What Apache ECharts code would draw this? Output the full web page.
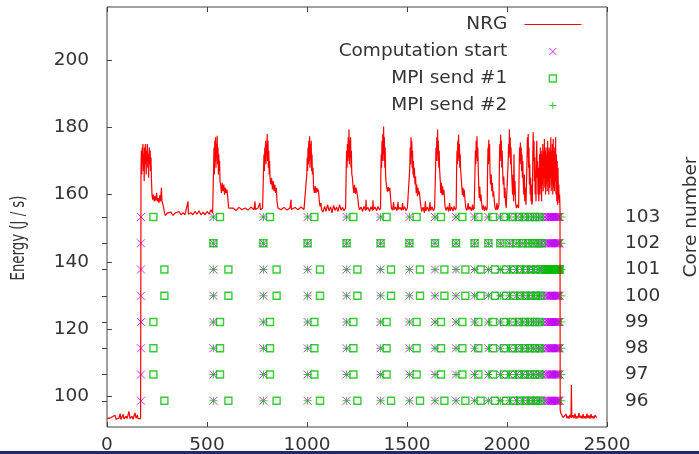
<!DOCTYPE html>
<html lang="en" style="height: 100%">
<head>
  <meta charset="utf-8">
</head>
<body style="height: 100%; margin: 0; background: #fff">
  <div id="container" style="width: 699px; height: 454px"></div>

  <script type="text/javascript" src="https://fastly.jsdelivr.net/npm/echarts@6/dist/echarts.min.js"></script>
  <script type="text/javascript">
    // power trace, [time (s), energy (J/s)]
    var nrg = [
      [0,93.5],[10,93.2],[20,93.8],[30,93.4],[40,94.5],[45,93.3],[60,93.6],[66,95],[70,93.2],[80,94.8],[85,93.4],[95,94.2],[100,93.5],[110,95.6],[115,93.5],[125,94.2],[130,93.3],[140,95.2],[145,93.6],[152,94.6],[155,93.5],[160,94],[168,93.5],
      // iteration 1
      [170,168],[172,173],[174,166],[176,174],[178,170],[180,175],[182,167],[184,172],[186,164],[188,174],[190,169],[192,175],[194,171],[196,166],[198,173],[200,170],[202,175],[204,168],[206,172],[208,165],[210,171],[212,174],[214,169],[216,173],[218,167],[220,171],[222,165],[225,160],[228,158.5],[232,160],[236,158],[240,159.5],[244,158.2],[248,160.5],[252,158],[256,159],[260,157.5],[264,159.8],[268,158],[272,162],[275,158],[280,157],[284,156.5],[288,154.5],[292,153.8],[300,154.5],[310,154],[320,154.8],[330,153.8],[340,154.5],[350,154],[360,155],[370,154],[380,154.6],[390,154],[400,154.5],[405,158],[407,154.2],[420,154.6],[430,154],[440,155],[450,154.2],[460,155.2],[470,154],[480,154.8],[490,154],[500,155],[510,154.2],[520,155.5],[528,154.5],
      // iteration 2
      [532,155],[533,168],[535,174],[537,166],[539,176],[541,170],[543,177],[545,168],[547,175],[549,171],[551,177.5],[553,169],[555,174],[557,166],[559,172],[561,167],[563,170],[565,164],[568,163],[572,160.5],[576,163.5],[580,161],[584,163],[588,160],[592,162],[596,160.5],[600,161.5],[604,159],[608,156],[615,155.5],[630,156],[645,155.3],[660,156.2],[675,155.5],[690,156],[705,155.4],[720,156.3],[735,155.5],[740,158],[742,155.6],[755,156],[765,157.5],[767,155.5],[778,156],
      // iteration 3
      [782,156],[783,168],[785,172],[787,167],[789,174],[791,170],[793,176],[795,169],[797,175],[799,172],[801,178],[803,170],[805,176],[807,168],[809,173],[811,166],[813,170],[815,165],[819,163],[823,165],[827,161.5],[831,164],[835,161],[839,163],[843,160.5],[847,162],[850,158],[855,156],[870,155.5],[885,156.2],[900,155.4],[915,156],[920,158.5],[922,155.6],[940,156.2],[955,155.5],[970,156.3],[985,155.6],[995,156],
      // iteration 4
      [998,156],[999,166],[1001,171],[1003,167],[1005,174],[1007,169],[1009,176],[1011,170],[1013,177.3],[1015,168],[1017,175],[1019,171],[1021,176],[1023,167],[1025,172],[1027,166],[1030,168],[1033,162],[1037,160.5],[1041,162.5],[1045,160.4],[1049,162],[1053,160.8],[1057,161.5],[1061,158.5],[1065,156.5],[1070,157.5],[1073,155.5],[1080,154.8],[1088,156.5],[1095,155],[1103,157],[1110,155.2],[1118,156.4],[1125,154.6],[1133,156.8],[1140,155.3],[1148,156.3],[1155,155],[1163,157],[1170,155.4],[1178,156.2],[1185,155.2],[1193,156],
      // iteration 5
      [1195,156],[1196,167],[1198,173],[1200,168],[1202,175],[1204,170],[1206,177],[1208,171],[1210,179.3],[1212,169],[1214,176],[1216,171],[1218,177],[1220,168],[1222,173],[1224,166],[1227,165],[1230,162.5],[1234,160.5],[1238,162.9],[1242,160.2],[1246,162],[1250,160.5],[1254,159],[1258,156.5],[1263,155.5],[1270,156.3],[1278,155],[1285,156.5],[1293,155.3],[1295,158.5],[1297,155.5],[1305,156.2],[1313,155],[1320,156.4],[1328,155.3],[1330,158.3],[1332,155.5],[1340,156.3],[1348,155.2],[1355,156.5],[1363,155.4],
      // iteration 6
      [1368,156],[1369,166],[1371,172],[1373,168],[1375,176],[1377,170],[1379,178],[1381,172],[1383,180.2],[1385,170],[1387,177],[1389,168],[1391,174],[1393,166],[1395,164],[1398,162.4],[1402,160.9],[1406,162.2],[1410,161],[1414,162],[1418,159],[1422,156],[1428,155.4],[1433,157.8],[1436,155.5],[1443,156.3],[1450,155.2],[1455,157.8],[1458,155.6],[1465,156.2],[1473,155.3],[1478,157.5],[1481,155.5],[1488,156.4],[1495,155.2],[1502,156],[1508,155.5],
      // iteration 7
      [1512,156],[1514,168],[1516,174],[1518,169],[1520,177],[1522,171],[1524,176],[1526,168],[1528,173],[1530,166],[1532,170],[1534,165],[1537,168],[1540,163],[1543,165.4],[1546,160.5],[1549,163],[1552,159.5],[1555,162],[1558,160],[1561,161],[1564,159.4],[1568,157],[1573,155],[1580,156.3],[1587,154.6],[1592,158],[1594,155.2],[1602,156.3],[1610,155],[1615,157.8],[1618,155.3],[1625,156.4],[1632,155.2],[1638,156],
      // iteration 8
      [1641,156],[1643,168],[1645,174],[1647,170],[1649,177],[1651,172],[1653,179.3],[1655,170],[1657,176],[1659,168],[1661,173],[1663,167.4],[1666,164.4],[1669,160.5],[1672,163.5],[1675,159.8],[1678,162.5],[1681,160],[1684,161.5],[1687,159.4],[1690,156.5],[1695,155.3],[1702,156.4],[1708,155],[1713,157.5],[1716,155.2],[1723,156.3],[1730,155.1],[1736,156.5],[1742,155.4],
      // iteration 9
      [1746,156],[1748,167],[1750,173],[1752,169],[1754,176],[1756,171],[1758,177.8],[1760,170],[1762,175],[1764,168],[1766,172],[1768,167.4],[1771,165],[1774,162.4],[1777,159.8],[1780,162],[1783,159.4],[1786,161.5],[1790,158.5],[1794,156],[1800,155.3],[1806,157.5],[1809,155.5],[1815,156.4],[1822,155.2],[1828,157],[1831,155.4],[1836,156],
      // iteration 10
      [1838,156],[1840,167],[1842,173],[1844,169],[1846,176],[1848,171],[1850,177.3],[1852,170],[1854,174],[1856,168.4],[1858,164],[1861,159],[1864,162.4],[1867,158],[1870,160],[1873,157.5],[1877,155.5],[1882,156.8],[1887,155.2],[1892,156.5],[1897,155.3],[1901,156],
      // iteration 11
      [1902,156],[1903,168],[1905,174],[1907,169],[1909,176.3],[1911,170],[1913,175],[1915,166.4],[1918,163],[1921,166],[1924,161],[1927,163.5],[1930,159.4],[1933,161],[1936,158.5],[1940,156],[1945,155.4],[1950,157.5],[1953,155.5],[1958,156],
      // iteration 12
      [1960,157],[1962,169],[1964,175],[1966,170],[1968,177.8],[1970,171],[1972,176],[1974,168],[1976,173],[1978,167.4],[1981,163],[1984,165.4],[1987,159],[1990,162],[1993,157.5],[1996,156],
      // iterations 13+
      [2003,156.5],[2006,170],[2008,175],[2010,171],[2012,179.3],[2014,172],[2016,177],[2018,169],[2020,174],[2022,168.4],[2025,164],[2028,160],[2031,166],[2033,158],[2035,172],[2037,160],[2040,164],[2043,157.5],[2047,156],[2052,157],
      [2058,156],[2061,168],[2063,174],[2065,170],[2067,175.5],[2069,169],[2071,174],[2073,167],[2075,172],[2077,165],[2079,170],[2081,164],[2084,160],[2087,166],[2089,158],[2092,162],[2095,157],
      [2098,157],[2100,170],[2102,177],[2104,171],[2106,178],[2108,168],[2110,174],[2112,163],[2114,169],[2116,160],[2118,165],[2120,158],[2122,163],[2124,157],
      [2127,158],[2129,172],[2131,178.5],[2133,170],[2135,176],[2137,164],[2139,171],[2141,160],[2143,167],[2145,158],[2147,172],[2149,176],[2151,165],[2153,170],[2155,160],[2157,168],[2159,158],[2161,164],
      [2163,172],[2165,160],[2167,174],[2169,162],[2171,173],[2173,158],[2175,172],[2177,163],[2179,175],[2181,161],[2183,173],[2185,165],[2187,176.5],[2189,162],[2191,173],[2193,160],[2195,174],[2197,163],[2199,172],[2201,161],[2203,176],[2205,164],[2207,173],[2209,160],[2211,174],[2213,162],[2215,172.5],[2217,165],[2219,177],[2221,161],[2223,173],[2225,163],[2227,175],[2229,160],[2231,176.5],[2233,162],[2235,173],[2237,161],[2239,174],[2241,164],[2243,177],[2245,160],[2247,172],[2249,158],[2251,170],[2253,157],[2255,168],[2257,158.5],[2259,163],[2261,157.5],[2263,160],[2265,156],
      // idle after the run
      [2266,96],[2270,95],[2275,94.5],[2280,93.8],[2285,94.2],[2290,93.5],[2295,94.8],[2300,93.6],[2305,94.3],[2310,93.5],[2315,94.6],[2320,93.7],[2322,103.5],[2324,93.8],[2330,94.5],[2335,93.6],[2340,95],[2345,93.5],[2350,94.2],[2355,93.6],[2360,95.2],[2365,93.7],[2370,94.3],[2375,93.5],[2380,94.8],[2385,93.6],[2390,94.2],[2395,93.5],[2400,95],[2405,93.6],[2410,94.4],[2415,93.5],[2420,94.8],[2425,93.6],[2430,94.2],[2435,93.5],[2440,94.5],[2448,93.8]
    ];

    var cores = [96, 97, 98, 99, 100, 101, 102, 103];
    var nearCores = [97, 98, 99, 103];   // send #1 shortly after start
    var farCores = [96, 100, 101];       // send #1 a bit later
    var energyTicks = [100, 120, 140, 160, 180, 200];

    // computation start times (same on every core)
    var compStart = [170, 532, 782, 1003, 1198, 1368, 1512, 1640, 1745, 1838, 1907, 1967, 2012, 2048, 2078, 2107, 2132, 2157, 2173];
    // last, very short iterations (solid bars)
    var denseStart = [2190, 2198, 2205, 2211, 2216, 2220, 2224, 2228, 2232, 2236, 2240, 2244, 2248, 2252, 2256, 2260, 2263];
    var send1Near = [232, 565, 815, 1037, 1232, 1398, 1548, 1670, 1777, 1857, 1930, 1985, 2027, 2060, 2088, 2115, 2140, 2163];
    var send1Far = [287, 607, 848, 1065, 1252, 1420, 1565, 1687, 1792, 1868, 1940, 1995, 2035, 2065, 2093, 2120, 2145, 2168];
    var finalSend = 2272;

    function cross(coreList, times) {
      var out = [];
      coreList.forEach(function (c) {
        times.forEach(function (t) { out.push([t, c]); });
      });
      return out;
    }

    var compPts = cross(cores, compStart.concat(denseStart));
    var send1Pts = cross(nearCores, send1Near)
      .concat(cross(farCores, send1Far))
      .concat(cross([102], compStart.slice(1)))
      .concat(cross([101], denseStart));
    var send2Pts = cross(cores, compStart.slice(1).concat([finalSend]));

    var FONT = 'DejaVu Sans';
    var TXT = '#333';
    var AX = '#444';
    var FS = 18.5;

    var dom = document.getElementById('container');
    var myChart = echarts.init(dom, null, { renderer: 'canvas' });

    var option = {
      animation: false,
      backgroundColor: '#fff',
      textStyle: { fontFamily: FONT },
      grid: {
        left: 107, right: 92, top: 7, bottom: 27,
        outerBoundsMode: 'none',
        show: true, borderColor: AX, borderWidth: 1
      },
      legend: {
        orient: 'vertical',
        right: 117,
        top: 15,
        padding: 0,
        align: 'right',
        itemWidth: 57,
        itemHeight: 14,
        itemGap: 8,
        selectedMode: false,
        textStyle: { fontFamily: FONT, fontSize: FS, color: TXT, lineHeight: 14, padding: [0, 12, 0, 0] },
        data: [
          { name: 'NRG', icon: 'path://M0 0M57 14M0 6.5L57 6.5L57 7.5L0 7.5Z',
            itemStyle: { color: '#ff0000', borderWidth: 0 } },
          { name: 'Computation start', icon: 'path://M0 0M57 14M25 3.5L32 10.5M32 3.5L25 10.5',
            itemStyle: { color: 'transparent', borderColor: '#c000ff', borderWidth: 1 } },
          { name: 'MPI send #1', icon: 'path://M0 0M57 14M25 3.5L32 3.5L32 10.5L25 10.5Z',
            itemStyle: { color: 'transparent', borderColor: '#00c000', borderWidth: 1.3 } },
          { name: 'MPI send #2', icon: 'path://M0 0M57 14M28.5 3.5L28.5 10.5M25 7L32 7',
            itemStyle: { color: 'transparent', borderColor: '#00c000', borderWidth: 1 } }
        ]
      },
      xAxis: [
        {
          type: 'value', position: 'bottom', min: 0, max: 2500, interval: 500,
          axisLine: { show: false },
          axisTick: { inside: true, length: 5, lineStyle: { color: AX } },
          axisLabel: { margin: 9, fontSize: FS, color: TXT, fontFamily: FONT,
            formatter: function (v) { return String(v); } },
          splitLine: { show: false }
        },
        {
          type: 'value', position: 'top', min: 0, max: 2500, interval: 500,
          axisLine: { show: false },
          axisTick: { inside: true, length: 5, lineStyle: { color: AX } },
          axisLabel: { show: false },
          splitLine: { show: false }
        }
      ],
      yAxis: [
        {
          type: 'value', position: 'left', min: 91, max: 215.7,
          axisLine: { show: false },
          axisTick: { inside: true, length: 5, customValues: energyTicks, lineStyle: { color: AX } },
          axisLabel: { customValues: energyTicks, margin: 18, fontSize: FS, color: TXT, fontFamily: FONT },
          splitLine: { show: false }
        },
        {
          type: 'value', position: 'right', min: 95, max: 111,
          axisLine: { show: false },
          axisTick: { inside: true, length: 5, customValues: cores, lineStyle: { color: AX } },
          axisLabel: { customValues: cores, margin: 18, fontSize: FS, color: TXT, fontFamily: FONT },
          splitLine: { show: false },
          name: 'Core number',
          nameLocation: 'middle',
          nameRotate: 90,
          nameGap: 75,
          nameTextStyle: { fontSize: FS, color: TXT, fontFamily: FONT }
        }
      ],
      series: [
        {
          name: 'NRG', type: 'line', xAxisIndex: 0, yAxisIndex: 0,
          data: nrg, symbol: 'none', showSymbol: false, silent: true,
          lineStyle: { color: '#ff0000', width: 1.2 },
          itemStyle: { color: '#ff0000' },
          emphasis: { disabled: true }
        },
        {
          name: 'Computation start', type: 'scatter', xAxisIndex: 0, yAxisIndex: 1,
          data: compPts, symbol: 'path://M0 0L8 8M8 0L0 8', symbolSize: 8, silent: true,
          itemStyle: { color: 'transparent', borderColor: '#c000ff', borderWidth: 1 },
          emphasis: { disabled: true }
        },
        {
          name: 'MPI send #1', type: 'scatter', xAxisIndex: 0, yAxisIndex: 1,
          data: send1Pts, symbol: 'rect', symbolSize: 7, silent: true,
          itemStyle: { color: 'transparent', borderColor: '#00c000', borderWidth: 1.4 },
          emphasis: { disabled: true }
        },
        {
          name: 'MPI send #2', type: 'scatter', xAxisIndex: 0, yAxisIndex: 1,
          data: send2Pts, symbol: 'path://M4 0L4 8M0 4L8 4', symbolSize: 8, silent: true,
          itemStyle: { color: 'transparent', borderColor: '#00c000', borderWidth: 1 },
          emphasis: { disabled: true }
        }
      ],
      graphic: [
        {
          // left axis title, drawn narrow as in the original figure
          type: 'text', x: 18.5, y: 238, rotation: Math.PI / 2, scaleX: 0.665,
          style: { text: 'Energy (J / s)', fontFamily: FONT, fontSize: 20, fill: TXT,
            align: 'center', verticalAlign: 'middle' }
        },
        {
          type: 'rect', left: 0, bottom: 0, z: 100,
          shape: { width: 699, height: 3 },
          style: { fill: '#1f2a6e' }
        }
      ]
    };

    myChart.setOption(option);
    window.addEventListener('resize', myChart.resize);
  </script>
</body>
</html>
